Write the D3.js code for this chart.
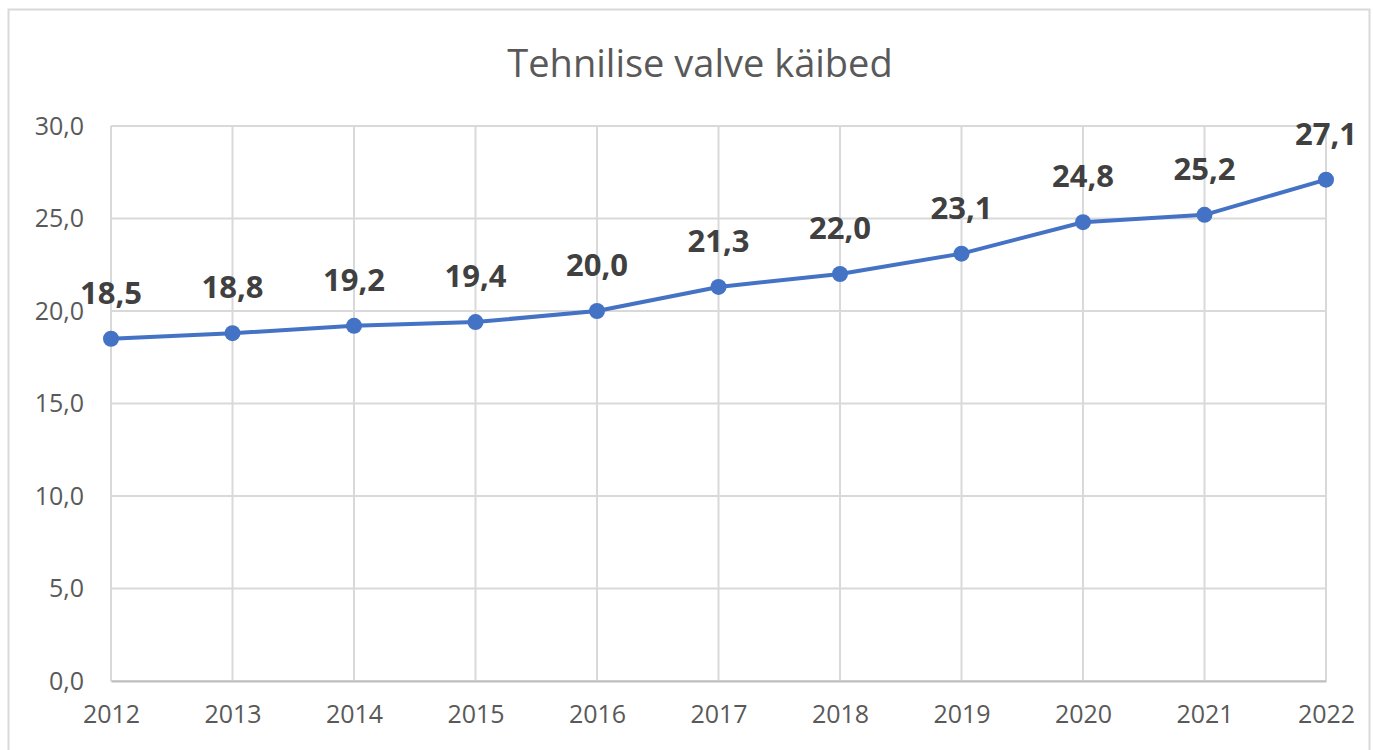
<!DOCTYPE html>
<html><head><meta charset="utf-8">
<script src="https://cdn.jsdelivr.net/npm/d3@7"></script>
<style>body{margin:0;background:#fff}svg{display:block}</style>
</head><body><svg id="c" width="1373" height="750"></svg>
<script>
const years = ["2012","2013","2014","2015","2016","2017","2018","2019","2020","2021","2022"];
const values = [18.5,18.8,19.2,19.4,20.0,21.3,22.0,23.1,24.8,25.2,27.1];
const yTicks = [0,5,10,15,20,25,30];
const title = "Tehnilise valve käibed";

const svg = d3.select("#c");
const font = "'Open Sans', 'Noto Sans', sans-serif";
svg.append("rect").attr("x",8.5).attr("y",9.5).attr("width",1361).attr("height",760)
  .attr("fill","#fff").attr("stroke","#d9d9d9").attr("stroke-width",2);

const x = d3.scalePoint().domain(years).range([111,1326]);
const y = d3.scaleLinear().domain([0,30]).range([681,126]);
const fmt = v => d3.format(".1f")(v).replace(".",",");

// gridlines
svg.append("g").selectAll("line").data(yTicks).join("line")
  .attr("x1",111).attr("x2",1326).attr("y1",d=>y(d)).attr("y2",d=>y(d))
  .attr("stroke","#d9d9d9").attr("stroke-width",2);
svg.append("g").selectAll("line").data(years).join("line")
  .attr("x1",d=>x(d)).attr("x2",d=>x(d)).attr("y1",126).attr("y2",681)
  .attr("stroke","#d9d9d9").attr("stroke-width",2);

// axes
const ya = svg.append("g").attr("transform","translate(111,0)")
  .call(d3.axisLeft(y).tickValues(yTicks).tickFormat(fmt).tickSize(0).tickPadding(27));
ya.select(".domain").remove();
ya.selectAll("text").attr("font-family",font).attr("font-size",25).attr("fill","#595959");
const xa = svg.append("g").attr("transform","translate(0,681)")
  .call(d3.axisBottom(x).tickSize(0).tickPadding(24));
xa.select(".domain").attr("stroke","#bfbfbf").attr("stroke-width",2);
xa.selectAll("text").attr("font-family",font).attr("font-size",25).attr("fill","#595959");

// title
svg.append("text").attr("x",700).attr("y",77).attr("text-anchor","middle")
  .attr("font-family",font).attr("font-size",38).attr("fill","#595959").text(title);

// line
const data = years.map((d,i)=>({year:d,v:values[i]}));
svg.append("path").datum(data)
  .attr("d",d3.line().x(d=>x(d.year)).y(d=>y(d.v)))
  .attr("fill","none").attr("stroke","#4472c4").attr("stroke-width",4).attr("stroke-linejoin","round");
svg.append("g").selectAll("circle").data(data).join("circle")
  .attr("cx",d=>x(d.year)).attr("cy",d=>y(d.v)).attr("r",8).attr("fill","#4472c4");
svg.append("g").selectAll("text").data(data).join("text")
  .attr("x",d=>x(d.year)).attr("y",d=>y(d.v)-35).attr("text-anchor","middle")
  .attr("font-family",font).attr("font-size",31).attr("font-weight","bold").attr("fill","#404040")
  .text(d=>fmt(d.v));
</script></body></html>
